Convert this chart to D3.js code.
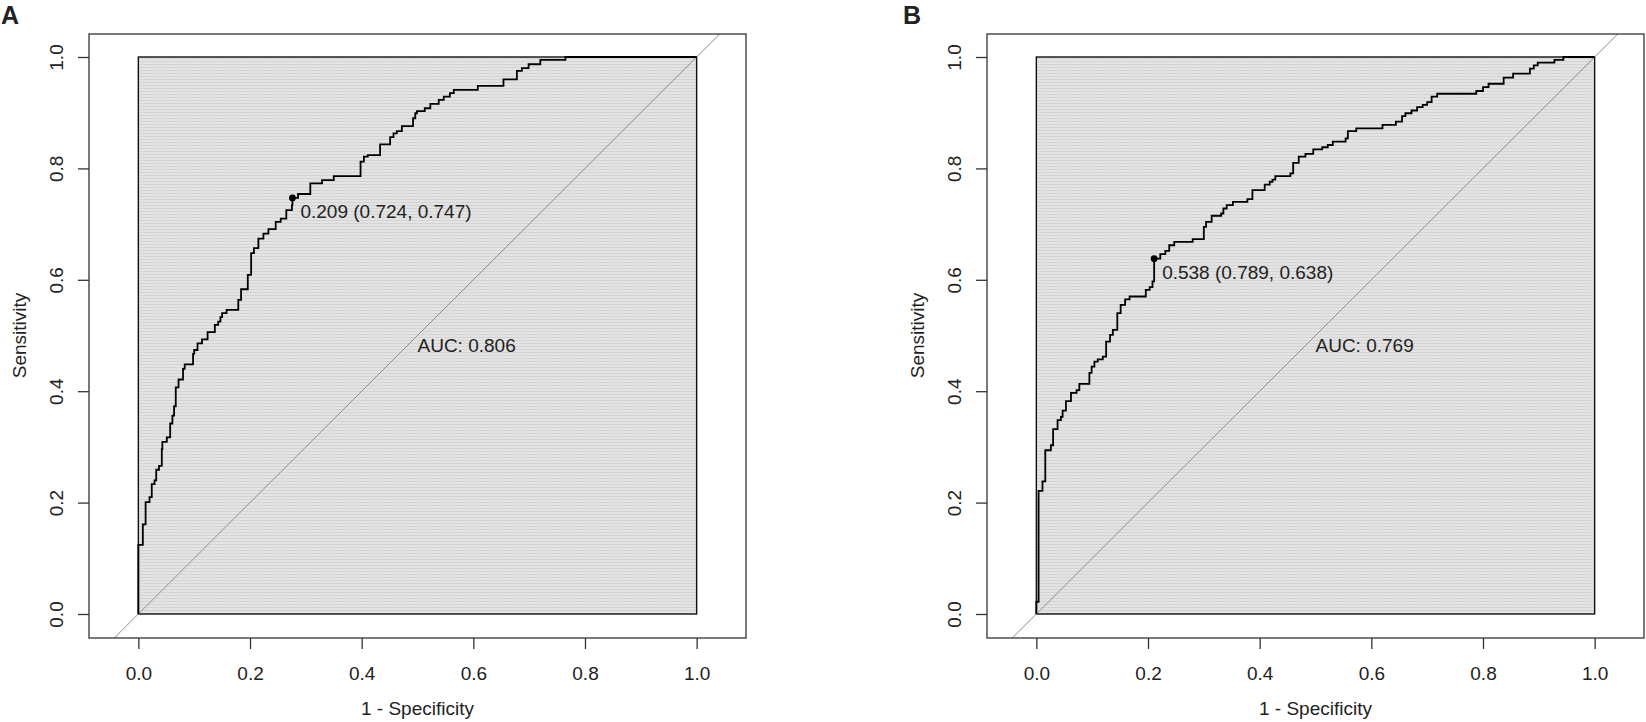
<!DOCTYPE html>
<meta charset="utf-8">
<script src="https://d3js.org/d3.v7.min.js"></script>
<style>
  body { margin: 0; background: #fff; }
  text { font-family: "Liberation Sans", Arial, sans-serif; fill: #222; }
</style>
<div id="my_dataviz"></div>
<script>

// tick labels (both axes)
var ticks = [0, 0.2, 0.4, 0.6, 0.8, 1.0];

// panel A : ROC corners (1 - specificity, sensitivity)
var fprA = [0, 0, 0.008, 0.013, 0.02, 0.024, 0.029, 0.032, 0.037, 0.042, 0.043, 0.051, 0.057, 0.061, 0.064, 0.067, 0.072, 0.08, 0.083, 0.098, 0.1, 0.106, 0.114, 0.124, 0.137, 0.143, 0.147, 0.15, 0.158, 0.179, 0.184, 0.196, 0.202, 0.207, 0.215, 0.224, 0.233, 0.246, 0.255, 0.265, 0.275, 0.276, 0.286, 0.308, 0.329, 0.35, 0.398, 0.404, 0.411, 0.433, 0.451, 0.457, 0.463, 0.472, 0.492, 0.496, 0.499, 0.513, 0.523, 0.538, 0.547, 0.558, 0.565, 0.608, 0.654, 0.678, 0.687, 0.699, 0.72, 0.765, 1];
var tprA = [0, 0.124, 0.161, 0.201, 0.21, 0.233, 0.24, 0.259, 0.266, 0.296, 0.309, 0.317, 0.342, 0.356, 0.373, 0.407, 0.421, 0.44, 0.448, 0.467, 0.474, 0.486, 0.493, 0.506, 0.519, 0.525, 0.533, 0.54, 0.546, 0.564, 0.583, 0.609, 0.648, 0.657, 0.674, 0.683, 0.691, 0.704, 0.71, 0.725, 0.734, 0.747, 0.754, 0.773, 0.779, 0.786, 0.812, 0.821, 0.824, 0.843, 0.856, 0.863, 0.867, 0.876, 0.89, 0.899, 0.903, 0.908, 0.916, 0.923, 0.929, 0.935, 0.941, 0.948, 0.96, 0.975, 0.98, 0.987, 0.995, 1.0, 1];

// panel B
var fprB = [0, 0, 0.004, 0.011, 0.016, 0.026, 0.03, 0.038, 0.044, 0.047, 0.053, 0.062, 0.072, 0.077, 0.095, 0.099, 0.104, 0.11, 0.119, 0.125, 0.132, 0.137, 0.145, 0.151, 0.159, 0.167, 0.196, 0.203, 0.208, 0.211, 0.222, 0.231, 0.238, 0.247, 0.28, 0.3, 0.304, 0.314, 0.331, 0.335, 0.341, 0.352, 0.378, 0.387, 0.409, 0.418, 0.423, 0.428, 0.455, 0.46, 0.47, 0.482, 0.496, 0.512, 0.522, 0.531, 0.554, 0.558, 0.573, 0.62, 0.644, 0.655, 0.661, 0.672, 0.682, 0.692, 0.7, 0.708, 0.718, 0.788, 0.8, 0.81, 0.837, 0.854, 0.884, 0.891, 0.898, 0.928, 0.944, 1];
var tprB = [0, 0.022, 0.221, 0.238, 0.294, 0.303, 0.332, 0.348, 0.354, 0.365, 0.382, 0.397, 0.402, 0.413, 0.433, 0.444, 0.453, 0.457, 0.462, 0.489, 0.501, 0.51, 0.54, 0.555, 0.565, 0.57, 0.582, 0.587, 0.597, 0.638, 0.646, 0.652, 0.662, 0.668, 0.673, 0.695, 0.704, 0.715, 0.719, 0.728, 0.734, 0.74, 0.745, 0.761, 0.771, 0.776, 0.78, 0.786, 0.791, 0.81, 0.821, 0.826, 0.834, 0.838, 0.842, 0.848, 0.854, 0.867, 0.872, 0.878, 0.884, 0.894, 0.899, 0.904, 0.91, 0.914, 0.919, 0.929, 0.934, 0.939, 0.946, 0.952, 0.963, 0.97, 0.979, 0.985, 0.99, 0.995, 1.0, 1];

// best thresholds and AUCs
var panels = [
  { tag: "A", fpr: fprA, tpr: tprA, thr: "0.209", spec: 0.724, sens: 0.747, auc: "0.806" },
  { tag: "B", fpr: fprB, tpr: tprB, thr: "0.538", spec: 0.789, sens: 0.638, auc: "0.769" }
];

// plot region of each panel (R style, asp = 1)
var w = 657, h = 604;
var xlim = [-0.0884, 1.0884], ylim = [-0.0431, 1.0413];
var offsets = [89, 987], topY = 34;

var svg = d3.select("#my_dataviz")
  .append("svg")
    .attr("width", 1646)
    .attr("height", 722);

// fine hatch used in the grey square
var pat = svg.append("defs").append("pattern")
    .attr("id", "hatch")
    .attr("patternUnits", "userSpaceOnUse")
    .attr("width", 3).attr("height", 3);
pat.append("rect").attr("width", 3).attr("height", 3).attr("fill", "#e6e6e6");
pat.append("rect").attr("width", 3).attr("height", 1).attr("fill", "#cfcfcf");
pat.append("rect").attr("width", 1).attr("height", 3).attr("fill", "#dedede");

var x = d3.scaleLinear().domain(xlim).range([0, w]);
var y = d3.scaleLinear().domain(ylim).range([h, 0]);

panels.forEach(function(p, i) {
  var g = svg.append("g")
    .attr("transform", "translate(" + offsets[i] + "," + topY + ")");

  var clipId = "clip" + i;
  g.append("clipPath").attr("id", clipId)
    .append("rect").attr("width", w).attr("height", h);

  // grey square [0,1] x [0,1]
  g.append("rect")
    .attr("x", x(0)).attr("y", y(1))
    .attr("width", x(1) - x(0)).attr("height", y(0) - y(1))
    .attr("fill", "url(#hatch)")
    .attr("stroke", "#111")
    .attr("stroke-width", 1.4);

  // chance line
  g.append("line")
    .attr("clip-path", "url(#" + clipId + ")")
    .attr("x1", x(-0.2)).attr("y1", y(-0.2))
    .attr("x2", x(1.2)).attr("y2", y(1.2))
    .attr("stroke", "#8c8c8c")
    .attr("stroke-width", 1);

  // ROC curve
  var pts = p.fpr.map(function(d, k) { return [d, p.tpr[k]]; });
  g.append("path")
    .datum(pts)
    .attr("fill", "none")
    .attr("stroke", "#000")
    .attr("stroke-width", 1.8)
    .attr("d", d3.line()
      .x(function(d) { return x(d[0]); })
      .y(function(d) { return y(d[1]); })
      .curve(d3.curveStepAfter));

  // best threshold
  var bx = x(1 - p.spec), by = y(p.sens);
  g.append("circle")
    .attr("cx", bx).attr("cy", by).attr("r", 3.4)
    .attr("fill", "#000");
  g.append("text")
    .attr("x", bx + 8).attr("y", by + 20)
    .style("font-size", "19px")
    .text(p.thr + " (" + p.spec.toFixed(3) + ", " + p.sens.toFixed(3) + ")");

  // AUC
  g.append("text")
    .attr("x", x(0.5)).attr("y", y(0.471))
    .style("font-size", "19px")
    .text("AUC: " + p.auc);

  // box
  g.append("rect")
    .attr("width", w).attr("height", h)
    .attr("fill", "none")
    .attr("stroke", "#333")
    .attr("stroke-width", 1.3);

  // x axis
  var xa = g.append("g").attr("transform", "translate(0," + h + ")")
    .call(d3.axisBottom(x).tickValues(ticks).tickFormat(d3.format(".1f"))
      .tickSize(11).tickPadding(18));
  xa.select(".domain").remove();
  xa.selectAll("line").attr("stroke", "#333").attr("stroke-width", 1.3);
  xa.selectAll("text").style("font-size", "19px").attr("fill", "#222")
    .style("font-family", "'Liberation Sans', Arial, sans-serif");

  // y axis
  var ya = g.append("g")
    .call(d3.axisLeft(y).tickValues(ticks).tickFormat(d3.format(".1f"))
      .tickSize(11).tickPadding(0));
  ya.select(".domain").remove();
  ya.selectAll("line").attr("stroke", "#333").attr("stroke-width", 1.3);
  ya.selectAll("text")
    .attr("x", null).attr("dy", null)
    .attr("text-anchor", "middle")
    .attr("transform", "translate(-26,0) rotate(-90)")
    .style("font-size", "19px").attr("fill", "#222")
    .style("font-family", "'Liberation Sans', Arial, sans-serif");

  // axis titles
  g.append("text")
    .attr("x", (x(0) + x(1)) / 2).attr("y", h + 77)
    .attr("text-anchor", "middle")
    .style("font-size", "19px")
    .text("1 - Specificity");
  g.append("text")
    .attr("transform", "translate(-63," + (y(0) + y(1)) / 2 + ") rotate(-90)")
    .attr("text-anchor", "middle")
    .style("font-size", "19px")
    .text("Sensitivity");

  // panel letter
  svg.append("text")
    .attr("x", i === 0 ? 1 : 903).attr("y", 24)
    .style("font-size", "25px")
    .style("font-weight", "bold")
    .attr("fill", "#000")
    .text(p.tag);
});

</script>
